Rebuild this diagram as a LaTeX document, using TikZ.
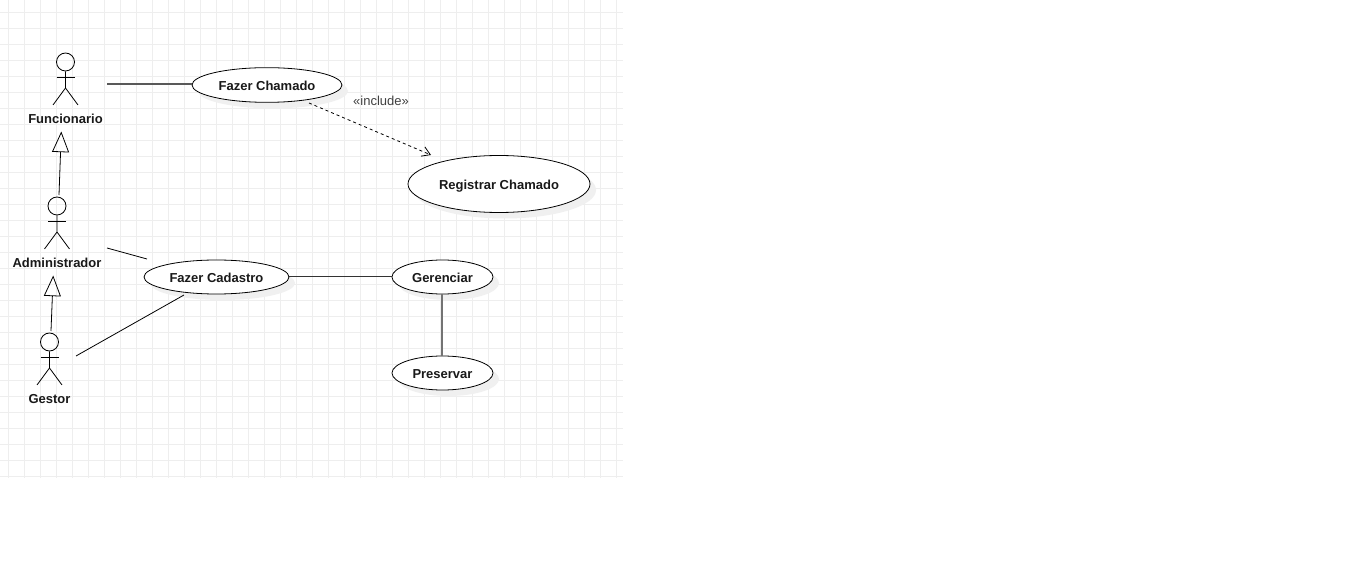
\documentclass[tikz,border=0pt]{standalone}
\usepackage{fontspec}
\setmainfont{Liberation Sans}
\usetikzlibrary{arrows.meta,shapes.geometric,shadows}
\definecolor{gridgray}{HTML}{EEEEEE}
\definecolor{shadowgray}{HTML}{F0F0F0}
\tikzset{
 usecase/.style={ellipse,draw=black,fill=white,line width=.6pt,inner sep=0pt,text height=8.25pt,text depth=0pt,font=\fontsize{9.75pt}{11pt}\selectfont\bfseries,text=black!90,
  drop shadow={shadow xshift=4.5pt,shadow yshift=-4.5pt,fill=shadowgray,opacity=1}},
 actorlabel/.style={font=\fontsize{9.75pt}{11pt}\selectfont\bfseries,text=black!90,inner sep=0pt},
 actorhead/.style={circle,draw=black,line width=.6pt,minimum size=13.5pt,inner sep=0pt},
 stick/.style={black,line width=.6pt},
 assoc/.style={black,line width=.6pt},
 assocblur/.style={black!65,line width=1pt},
 inherit/.style={black,line width=.6pt,-{Triangle[open,length=15.5pt,width=12.75pt]}},
 includes/.style={black,line width=.6pt,dash pattern=on 2.25pt off 2.25pt,-{Straight Barb[length=6pt,width=7.5pt]}}
}

\begin{document}
\begin{tikzpicture}[x=.75pt,y=-.75pt]
\useasboundingbox (0,0) rectangle (1360,584);
\fill[white] (0,0) rectangle (1360,584);

% grid
\foreach \gx in {0,...,38} \draw[gridgray,line width=.75pt] (8.5+16*\gx,0) -- (8.5+16*\gx,478);
\foreach \gy in {0,...,29} \draw[gridgray,line width=.75pt] (0,12.5+16*\gy) -- (623,12.5+16*\gy);

% use cases
\node[usecase,minimum width=112.5pt,minimum height=26pt] (chamado) at (267,85) {Fazer Chamado};
\node[usecase,minimum width=136.5pt,minimum height=42.75pt] (registrar) at (499,184) {Registrar Chamado};
\node[usecase,minimum width=108.75pt,minimum height=25.5pt] (cadastro) at (216.5,277) {Fazer Cadastro};
\node[usecase,minimum width=75.75pt,minimum height=25.5pt] (gerenciar) at (442.5,277) {Gerenciar};
\node[usecase,minimum width=75.75pt,minimum height=25.5pt] (preservar) at (442.5,373) {Preservar};

\begin{scope}[shift={(65.5,62)}] %funcionario
\node[actorhead] (funcHead) at (0,0) {};
\draw[stick] (funcHead.south) -- (0,26) -- (-12.5,43);
\draw[stick] (0,26) -- (12.5,43);
\draw[stick] (-9,15) -- (9,15);
\node[actorlabel] (funcionario) at (0,57) {Funcionario};
\end{scope}

\begin{scope}[shift={(57,206)}] %administrador
\node[actorhead] (admHead) at (0,0) {};
\draw[stick] (admHead.south) -- (0,26) -- (-12.5,43);
\draw[stick] (0,26) -- (12.5,43);
\draw[stick] (-9,15) -- (9,15);
\node[actorlabel] (administrador) at (0,57) {Administrador};
\end{scope}

\begin{scope}[shift={(49.5,342)}] %gestor
\node[actorhead] (gestHead) at (0,0) {};
\draw[stick] (gestHead.south) -- (0,26) -- (-12.5,43);
\draw[stick] (0,26) -- (12.5,43);
\draw[stick] (-9,15) -- (9,15);
\node[actorlabel] (gestor) at (0,57) {Gestor};
\end{scope}

% free ends of the connectors
\coordinate (funcRight) at (107,84);
\coordinate (admRight) at (107,248);
\coordinate (cadTop) at (147,259);
\coordinate (gestRight) at (76,356);
\coordinate (cadBottom) at (184,295);
\coordinate (admFoot) at (59,195);
\coordinate (funcTip) at (61.3,131.5);
\coordinate (gestFoot) at (51,331);
\coordinate (admTip) at (53.2,275.5);
\coordinate (incStart) at (309,103);
\coordinate (incEnd) at (431,155);
\coordinate (gerBottom) at (442,294.5);
\coordinate (presTop) at (442,356);

\draw[assocblur] (funcRight) -- (funcRight-|chamado.west);
\draw[assoc] (admRight) -- (cadTop);
\draw[assoc] (gestRight) -- (cadBottom);
\draw[assoc,black!80,line width=.75pt] (cadastro.east) -- (gerenciar.west);
\draw[assocblur,black!55,line width=1.5pt] (gerBottom) -- (presTop);
\draw[inherit] (admFoot) -- (funcTip);
\draw[inherit] (gestFoot) -- (admTip);
\draw[includes] (incStart) -- (incEnd);
\node[font=\fontsize{9.75pt}{11pt}\selectfont,text=black!75,inner sep=0pt] (includeLabel) at (381,101) {«include»};
\end{tikzpicture}
\end{document}
